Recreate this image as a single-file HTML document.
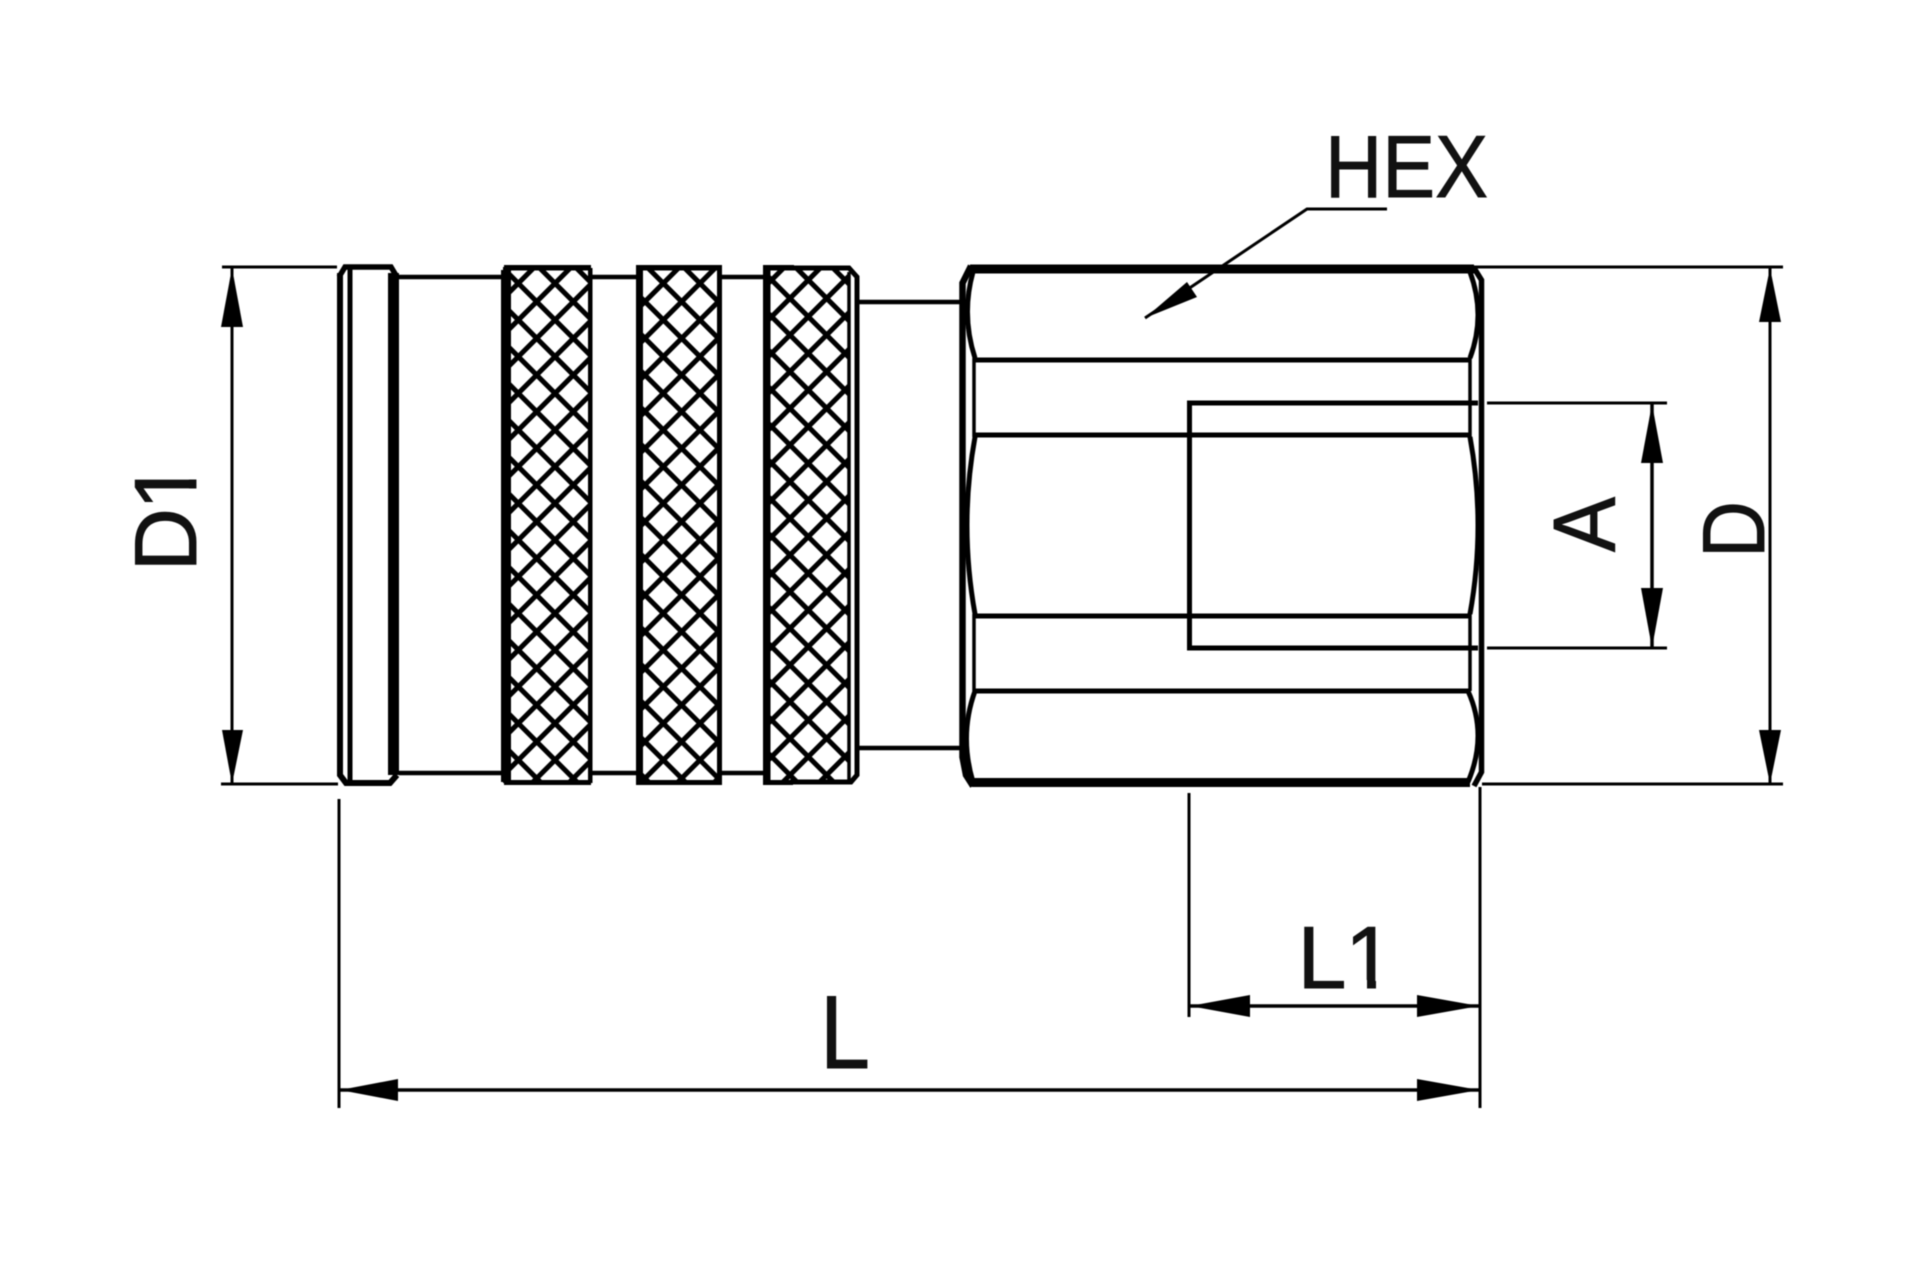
<!DOCTYPE html>
<html><head><meta charset="utf-8"><style>
html,body{margin:0;padding:0;background:#fff}
svg{display:block;filter:blur(.6px)}
text{font-family:"Liberation Sans",sans-serif;fill:#111;stroke:#111;stroke-width:.9px}
</style></head><body>
<svg width="1920" height="1280" viewBox="0 0 1920 1280" xmlns="http://www.w3.org/2000/svg">
<defs>
<pattern id="a1" patternUnits="userSpaceOnUse" width="25.93" height="25.93" patternTransform="translate(555 283.3) rotate(45)"><rect x="0" y="0" width="2.5" height="26" fill="#000"/><rect x="23.43" y="0" width="2.5" height="26" fill="#000"/></pattern>
<pattern id="b1" patternUnits="userSpaceOnUse" width="25.93" height="25.93" patternTransform="translate(555 283.3) rotate(-45)"><rect x="0" y="0" width="2.5" height="26" fill="#000"/><rect x="23.43" y="0" width="2.5" height="26" fill="#000"/></pattern>
<pattern id="a2" patternUnits="userSpaceOnUse" width="25.93" height="25.93" patternTransform="translate(663.3 283.3) rotate(45)"><rect x="0" y="0" width="2.5" height="26" fill="#000"/><rect x="23.43" y="0" width="2.5" height="26" fill="#000"/></pattern>
<pattern id="b2" patternUnits="userSpaceOnUse" width="25.93" height="25.93" patternTransform="translate(663.3 283.3) rotate(-45)"><rect x="0" y="0" width="2.5" height="26" fill="#000"/><rect x="23.43" y="0" width="2.5" height="26" fill="#000"/></pattern>
<pattern id="a3" patternUnits="userSpaceOnUse" width="25.93" height="25.93" patternTransform="translate(808.3 280) rotate(45)"><rect x="0" y="0" width="2.5" height="26" fill="#000"/><rect x="23.43" y="0" width="2.5" height="26" fill="#000"/></pattern>
<pattern id="b3" patternUnits="userSpaceOnUse" width="25.93" height="25.93" patternTransform="translate(808.3 280) rotate(-45)"><rect x="0" y="0" width="2.5" height="26" fill="#000"/><rect x="23.43" y="0" width="2.5" height="26" fill="#000"/></pattern>
</defs>
<rect width="1920" height="1280" fill="#fff"/>

<!-- barrel and neck lines -->
<g stroke="#000" fill="none" stroke-width="4.5">
<path d="M399 277H502M592 277H636M721 277H764"/>
<path d="M399 773H502M592 773H636M721 773H764"/>
<path d="M859 302H960M859 748H960"/>
</g>

<!-- collar -->
<g fill="none" stroke="#000">
<path d="M339 277L345 267H391L397 277" stroke-width="5.5"/>
<path d="M340 273V775L346 783H390L397 775" stroke-width="6"/>
<path d="M350 268V783" stroke-width="5"/>
</g>
<rect x="388" y="273" width="11" height="502" fill="#000"/>

<!-- knurl 1 -->
<rect x="503" y="267" width="87" height="516" fill="url(#a1)"/>
<rect x="503" y="267" width="87" height="516" fill="url(#b1)"/>
<rect x="501" y="270" width="10" height="512" fill="#000"/>
<rect x="588" y="268" width="4.5" height="515" fill="#000"/>
<rect x="504" y="265" width="87" height="5.5" fill="#000"/>
<rect x="504" y="780" width="87" height="5" fill="#000"/>

<!-- knurl 2 -->
<rect x="638" y="267" width="82" height="516" fill="url(#a2)"/>
<rect x="638" y="267" width="82" height="516" fill="url(#b2)"/>
<rect x="636" y="265" width="7" height="520" fill="#000"/>
<rect x="717" y="265" width="5" height="520" fill="#000"/>
<rect x="636" y="265" width="86" height="5.5" fill="#000"/>
<rect x="636" y="780" width="86" height="5" fill="#000"/>

<!-- knurl 3 -->
<rect x="765" y="267" width="85" height="516" fill="url(#a3)"/>
<rect x="765" y="267" width="85" height="516" fill="url(#b3)"/>
<rect x="763" y="265" width="7.5" height="520" fill="#000"/>
<rect x="763" y="265" width="31" height="5.5" fill="#000"/>
<rect x="763" y="780" width="30" height="5" fill="#000"/>
<g fill="none" stroke="#000">
<path d="M790 268H849L857 277V775L851 782H790" stroke-width="5"/>
<path d="M849 272V782" stroke-width="3.5"/>
</g>

<!-- hex -->
<g fill="none" stroke="#000">
<path d="M970 269H1474M972 782.5H1470" stroke-width="9"/>
<path d="M971 266L962.5 283V757L966 775L973 786" stroke-width="6.5"/>
<path d="M1474 268L1481.5 280V772L1474 786" stroke-width="5.5"/>
<path d="M973 272Q961 315 975 358M975 437Q959 525 975 614M975 691Q959 735 973 782" stroke-width="5"/>
<path d="M1470 272Q1486 315 1470 358M1470 437Q1486 525 1470 614M1468 691Q1488 735 1468 782" stroke-width="5"/>
<path d="M973 360H1470M973 435H1470M973 616H1470M973 691H1470" stroke-width="5"/>
<path d="M974 358V437M974 614V691M1470 358V437M1470 614V691" stroke-width="3.5"/>
<path d="M1478 403H1189.5V648H1478" stroke-width="5"/>
</g>

<!-- dimension lines -->
<g fill="none" stroke="#000" stroke-width="3">
<path d="M222 267H337M221 784H338M232 268V783"/>
<path d="M1474 267H1783M1482 784H1783M1770 268V783"/>
<path d="M1487 403H1667M1487 648H1667" />
<path d="M1652 404V648" stroke-width="3.5"/>
<path d="M1189 793V1017M1480 787V1108M339 799V1108"/>
<path d="M1190 1006H1479M340 1090H1479" stroke-width="3.5"/>
<path d="M1145 318L1307 209H1387"/>
</g>
<g fill="#000">
<polygon points="232,268 243,327 221,327"/>
<polygon points="232,784 243,730 222,730"/>
<polygon points="1770,268 1781,322 1759,322"/>
<polygon points="1770,784 1781,730 1759,730"/>
<polygon points="1652,404 1663,463 1641,463"/>
<polygon points="1652,648 1663,588 1641,588"/>
<polygon points="1190,1006 1250,995 1250,1017"/>
<polygon points="1479,1006 1417,995 1417,1017"/>
<polygon points="340,1090 398,1079 398,1101"/>
<polygon points="1479,1090 1417,1079 1417,1101"/>
<polygon points="1145,318 1187,282 1197,297"/>
</g>

<!-- labels -->
<text x="1325" y="197" font-size="88" textLength="163" lengthAdjust="spacingAndGlyphs">HEX</text>
<text x="1297.5" y="988" font-size="88">L</text>
<text x="1345" y="988" font-size="88">1</text>
<rect x="1349" y="980" width="18" height="10" fill="#fff"/>
<rect x="1376" y="980" width="18" height="10" fill="#fff"/>
<text x="820" y="1068" font-size="104" textLength="50" lengthAdjust="spacingAndGlyphs">L</text>
<text transform="translate(196 571.5) rotate(-90)" font-size="88">D</text>
<text transform="translate(196 510) rotate(-90)" font-size="88">1</text>
<rect x="188" y="461" width="10" height="18.5" fill="#fff"/>
<rect x="188" y="488.5" width="10" height="18" fill="#fff"/>
<text transform="translate(1615 552) rotate(-90)" font-size="88" textLength="55" lengthAdjust="spacingAndGlyphs">A</text>
<text transform="translate(1764 558) rotate(-90)" font-size="88" textLength="57" lengthAdjust="spacingAndGlyphs">D</text>
</svg>
</body></html>
